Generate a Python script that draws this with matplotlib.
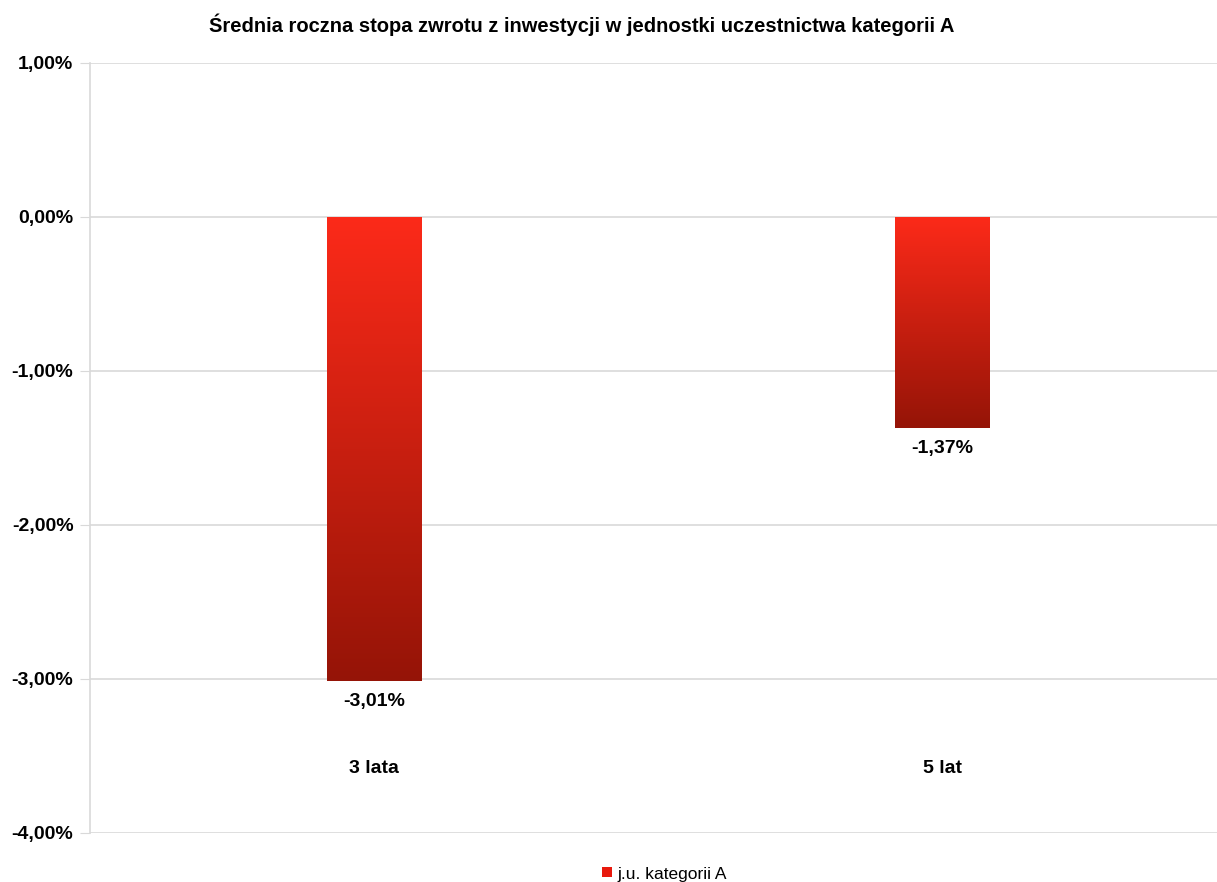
import numpy as np
import matplotlib.pyplot as plt
from matplotlib.colors import LinearSegmentedColormap
from matplotlib.patches import Patch

# ---- Data ----
CATEGORIES = ["3 lata", "5 lat"]
VALUES = [-3.01, -1.37]
VALUE_LABELS = ["-3,01%", "-1,37%"]
YTICKS = [1, 0, -1, -2, -3, -4]
YTICK_LABELS = ["1,00%", "0,00%", "-1,00%", "-2,00%", "-3,00%", "-4,00%"]
TITLE = "Średnia roczna stopa zwrotu z inwestycji w jednostki uczestnictwa kategorii A"
LEGEND_LABEL = "j.u. kategorii A"

# ---- Styling ----
TOP_RED = "#fc2a19"
DARK_RED = "#951407"
GRID = "#d9d9d9"
plt.rcParams["font.family"] = ["Liberation Sans", "DejaVu Sans"]

fig = plt.figure(figsize=(12.17, 8.82), dpi=100)
ax = fig.add_axes([0.074, 0.0556, 0.934, 0.873])

x = np.arange(len(CATEGORIES))
bars = ax.bar(x, VALUES, width=0.167, color="none", edgecolor="none", zorder=3)

# vertical gradient inside each bar: bright red at 0, dark red at bar end
cmap = LinearSegmentedColormap.from_list("redgrad", [DARK_RED, TOP_RED])
grad = np.linspace(0, 1, 256).reshape(-1, 1)
for b in bars:
    x0, w = b.get_x(), b.get_width()
    y0, h = b.get_y(), b.get_height()
    im = ax.imshow(grad, cmap=cmap, aspect="auto", origin="lower",
                   extent=[x0, x0 + w, y0 + h, y0], zorder=3)
    im.set_clip_path(b)

ax.set_xlim(-0.5, len(CATEGORIES) - 0.5)
ax.set_ylim(-4, 1)
ax.set_yticks(YTICKS)
ax.set_yticklabels(YTICK_LABELS, fontsize=14, fontweight="bold")
ax.tick_params(axis="y", length=7, color=GRID, pad=5)
ax.set_xticks([])

ax.yaxis.grid(True, color=GRID, linewidth=1.2)
ax.set_axisbelow(True)
for side in ["top", "right", "bottom"]:
    ax.spines[side].set_visible(False)
ax.spines["left"].set_color(GRID)
ax.spines["left"].set_linewidth(1.2)

# value labels below bar ends
for b, lab in zip(bars, VALUE_LABELS):
    ax.annotate(lab, (b.get_x() + b.get_width() / 2, b.get_height()),
                xytext=(0, -15), textcoords="offset points",
                ha="center", va="center", fontsize=14, fontweight="bold")

# category labels inside the plot area
for xi, cat in zip(x, CATEGORIES):
    ax.text(xi, -3.58, cat, ha="center", va="center", fontsize=14, fontweight="bold")

fig.text(0.478, 0.972, TITLE, ha="center", va="center", fontsize=14.5,
         fontweight="bold")

fig.legend(handles=[Patch(facecolor="#e8190d", label=LEGEND_LABEL)],
           loc="center", bbox_to_anchor=(0.546, 0.009), frameon=False,
           fontsize=12.5, handlelength=0.6, handleheight=0.5, handletextpad=0.3)

fig.savefig("out.png", dpi=100)
